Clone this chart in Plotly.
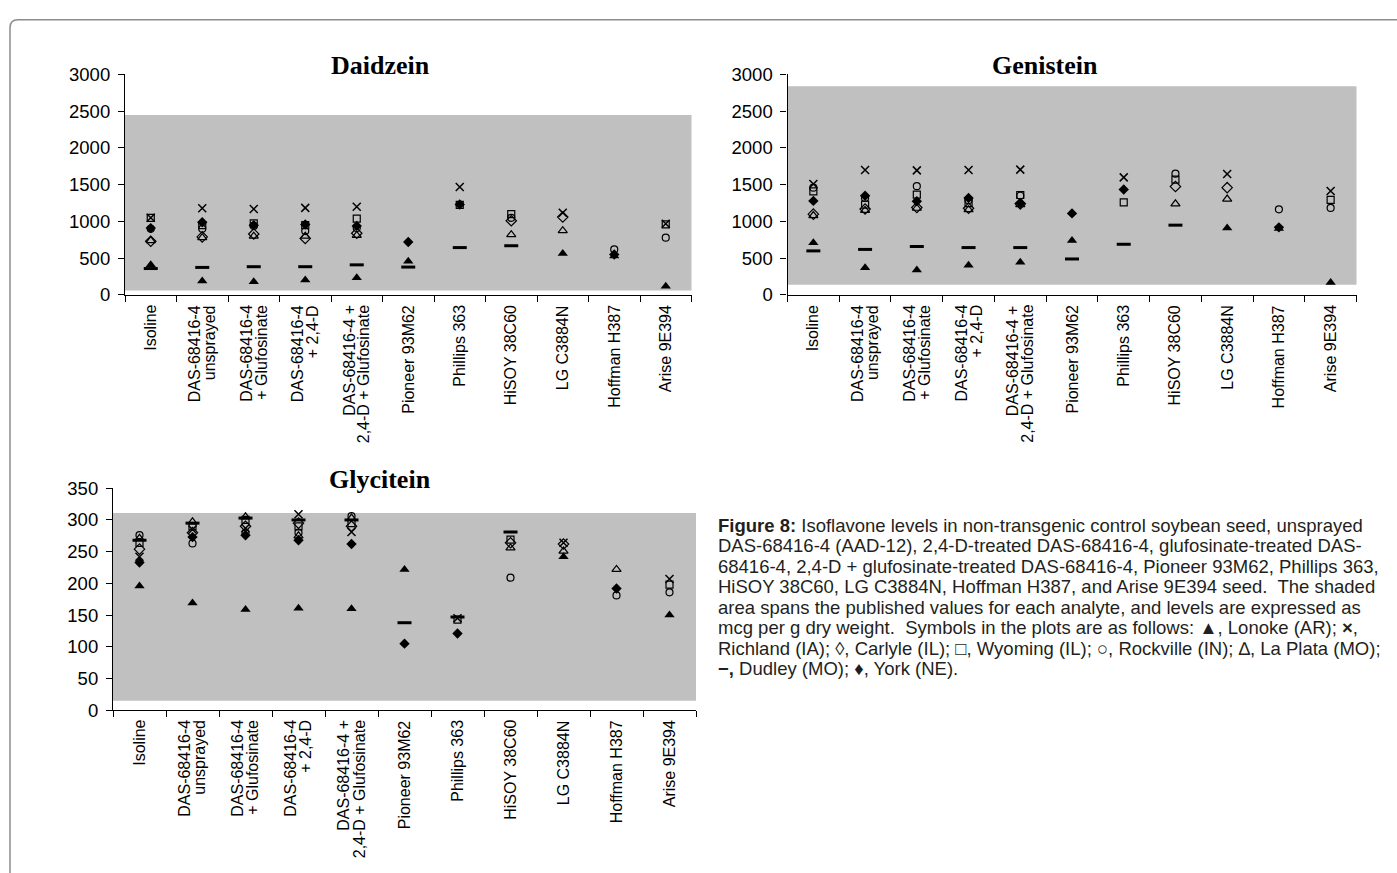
import plotly.graph_objects as go

# ---- categories (x axis) ----
categories = [
    "Isoline",
    "DAS-68416-4<br>unsprayed",
    "DAS-68416-4<br>+ Glufosinate",
    "DAS-68416-4<br>+ 2,4-D",
    "DAS-68416-4 +<br>2,4-D + Glufosinate",
    "Pioneer 93M62",
    "Phillips 363",
    "HiSOY 38C60",
    "LG C3884N",
    "Hoffman H387",
    "Arise 9E394",
]

# ---- Daidzein (mcg/g dry weight) by site ----
daidzein_lonoke = [410, 190, 180, 205, 235, 460, None, None, 565, 530, 120]
daidzein_richland = [1050, 1180, 1170, 1185, 1200, None, 1470, None, 1120, None, 970]
daidzein_carlyle = [730, 790, 830, 770, 840, None, None, 1010, 1060, None, None]
daidzein_wyoming = [1050, 950, 975, 950, 1040, None, 1225, 1100, None, None, 960]
daidzein_rockville = [900, 900, 940, 870, 910, None, None, 1050, None, 620, 780]
daidzein_laplata = [740, 780, 800, 800, 810, None, None, 820, 875, None, None]
daidzein_dudley = [360, 375, 385, 385, 410, 380, 645, 670, None, None, None]
daidzein_york = [910, 990, 950, 960, 940, 720, 1230, None, None, 550, None]
daidzein_range = [60, 2450]

# ---- Genistein ----
genistein_lonoke = [710, 370, 340, 405, 445, 740, None, None, 910, 905, 170]
genistein_richland = [1510, 1700, 1695, 1700, 1705, None, 1600, None, 1645, None, 1415]
genistein_carlyle = [1100, 1170, 1190, 1180, 1240, None, None, 1475, 1460, None, None]
genistein_wyoming = [1410, 1230, 1365, 1250, 1360, None, 1260, 1570, None, None, 1295]
genistein_rockville = [1460, 1320, 1480, 1290, 1350, None, None, 1650, None, 1165, 1185]
genistein_laplata = [1080, 1150, 1180, 1160, 1230, None, None, 1240, 1305, None, None]
genistein_dudley = [600, 620, 660, 645, 645, 490, 690, 950, None, None, None]
genistein_york = [1280, 1350, 1275, 1320, 1250, 1110, 1435, None, None, 920, None]
genistein_range = [140, 2840]

# ---- Glycitein ----
glycitein_lonoke = [196, 169, 159, 161, 160, 222, None, None, 242, None, 150]
glycitein_richland = [242, 285, 287, 309, 281, None, 145, None, 264, None, 207]
glycitein_carlyle = [254, 280, 290, 295, 290, None, None, 264, 262, None, None]
glycitein_wyoming = [264, 290, 300, 290, 295, None, 143, 269, None, None, 198]
glycitein_rockville = [276, 263, 280, 280, 306, None, None, 209, None, 181, 186]
glycitein_laplata = [271, 297, 305, 275, 303, None, None, 256, 251, 222, None]
glycitein_dudley = [268, 295, 303, 300, 300, 138, 147, 281, None, None, None]
glycitein_york = [233, 273, 276, 268, 262, 105, 121, None, None, 192, None]
glycitein_range = [15, 311]

# site marker styles: (site, symbol, size, line width)
site_styles = [
    ("Lonoke (AR)", "triangle-up", 9, 0),
    ("Richland (IA)", "x-thin-open", 8, 1.5),
    ("Carlyle (IL)", "diamond-open", 8, 1.2),
    ("Wyoming (IL)", "square-open", 7, 1.2),
    ("Rockville (IN)", "circle-open", 7, 1.2),
    ("La Plata (MO)", "triangle-up-open", 8, 1.2),
    ("Dudley (MO)", "line-ew-open", 10, 3),
    ("York (NE)", "diamond", 8, 0),
]

W, H = 1397, 873


def fx(p):
    return p / W


def fy(p):
    return 1 - p / H


panels = [
    dict(title="Daidzein", ax="", xdom=(125, 691.5), ydom=(291, 65), yr=(0, 3000), dt=500,
         band=daidzein_range, tpos=(380, 56),
         series=[daidzein_lonoke, daidzein_richland, daidzein_carlyle, daidzein_wyoming,
                 daidzein_rockville, daidzein_laplata, daidzein_dudley, daidzein_york]),
    dict(title="Genistein", ax="2", xdom=(787.5, 1356.5), ydom=(291, 65), yr=(0, 3000), dt=500,
         band=genistein_range, tpos=(1045, 56),
         series=[genistein_lonoke, genistein_richland, genistein_carlyle, genistein_wyoming,
                 genistein_rockville, genistein_laplata, genistein_dudley, genistein_york]),
    dict(title="Glycitein", ax="3", xdom=(113, 696), ydom=(716.5, 489), yr=(0, 350), dt=50,
         band=glycitein_range, tpos=(380, 480),
         series=[glycitein_lonoke, glycitein_richland, glycitein_carlyle, glycitein_wyoming,
                 glycitein_rockville, glycitein_laplata, glycitein_dudley, glycitein_york]),
]

SANS = "Liberation Sans, Arial, sans-serif"
SERIF = "Liberation Serif, Times New Roman, serif"

fig = go.Figure()
shapes = []
annotations = []
xs = list(range(len(categories)))
boundaries = [i - 0.5 for i in range(len(categories) + 1)]

for p in panels:
    xname, yname = "x" + p["ax"], "y" + p["ax"]
    for (site, sym, size, lw), vals in zip(site_styles, p["series"]):
        fig.add_trace(go.Scatter(
            x=xs, y=vals, mode="markers", name=site, showlegend=False,
            xaxis=xname, yaxis=yname, cliponaxis=False,
            marker=dict(symbol=sym, size=size, color="black",
                        line=dict(color="black", width=lw)),
        ))
    # shaded published range
    shapes.append(dict(type="rect", xref=xname + " domain", yref=yname,
                       x0=0, x1=1, y0=p["band"][0], y1=p["band"][1],
                       fillcolor="#c0c0c0", line=dict(width=0), layer="below"))
    xa = dict(domain=[fx(p["xdom"][0]), fx(p["xdom"][1])], range=[-0.5, 10.5],
              anchor=yname, showgrid=False, zeroline=False, showline=True,
              linecolor="black", linewidth=1.2, showticklabels=False,
              tickvals=xs, ticks="",
              minor=dict(tickvals=boundaries, ticks="outside", ticklen=6,
                         tickcolor="black", tickwidth=1.2, showgrid=False))
    ya = dict(domain=[fy(p["ydom"][0]), fy(p["ydom"][1])], range=list(p["yr"]),
              anchor=xname, showgrid=False, zeroline=False, showline=True,
              linecolor="black", linewidth=1.2, ticks="outside", ticklen=6,
              tickwidth=1.2, tickcolor="black", dtick=p["dt"], tick0=0,
              ticklabelstandoff=4,
              tickfont=dict(family=SANS, size=18.5, color="black"))
    fig.update_layout({"xaxis" + p["ax"]: xa, "yaxis" + p["ax"]: ya})
    # panel title
    annotations.append(dict(text="<b>%s</b>" % p["title"], xref="paper", yref="paper",
                            x=fx(p["tpos"][0]), y=fy(p["tpos"][1]), xanchor="center",
                            yanchor="middle", showarrow=False,
                            font=dict(family=SERIF, size=26, color="black")))
    # rotated category labels, one annotation per text line
    for i, lab in enumerate(categories):
        lines = lab.split("<br>")
        n = len(lines)
        for j, line in enumerate(lines):
            annotations.append(dict(text=line, xref=xname, yref=yname + " domain",
                                    x=i, y=0, xanchor="center", yanchor="top",
                                    xshift=(j - (n - 1) / 2) * 15, yshift=-8,
                                    textangle=-90, showarrow=False,
                                    font=dict(family=SANS, size=16, color="black")))

# figure caption
caption_lines = [
    "<b>Figure 8:</b> Isoflavone levels in non-transgenic control soybean seed, unsprayed",
    "DAS-68416-4 (AAD-12), 2,4-D-treated DAS-68416-4, glufosinate-treated DAS-",
    "68416-4, 2,4-D + glufosinate-treated DAS-68416-4, Pioneer 93M62, Phillips 363,",
    "HiSOY 38C60, LG C3884N, Hoffman H387, and Arise 9E394 seed.  The shaded",
    "area spans the published values for each analyte, and levels are expressed as",
    "mcg per g dry weight.  Symbols in the plots are as follows: \u25b2, Lonoke (AR); <b>\u00d7</b>,",
    "Richland (IA); \u25ca, Carlyle (IL); \u25a1, Wyoming (IL); \u25cb, Rockville (IN); \u2206, La Plata (MO);",
    "<b>\u2212,</b> Dudley (MO); \u2666, York (NE).",
]
for k, line in enumerate(caption_lines):
    annotations.append(dict(text=line, xref="paper", yref="paper", x=fx(716),
                            y=fy(527 + 21 * k), xanchor="left", yanchor="middle",
                            showarrow=False, align="left",
                            font=dict(family=SANS, size=18.5, color="#231f20")))

# outer frame with rounded top-left corner
x0, y0, r = fx(10), fy(9), 8
frame = "M %f,%f L %f,%f Q %f,%f %f,%f L %f,%f" % (
    x0, -0.1, x0, fy(9 + r), x0, y0, fx(10 + r), y0, 1.1, y0)
shapes.append(dict(type="path", xref="paper", yref="paper", path=frame,
                   line=dict(color="#8c8c8c", width=1.5)))

fig.update_layout(width=W, height=H, margin=dict(l=0, r=0, t=0, b=0),
                  paper_bgcolor="white", plot_bgcolor="rgba(0,0,0,0)",
                  shapes=shapes, annotations=annotations)
fig.write_html("out.html")
